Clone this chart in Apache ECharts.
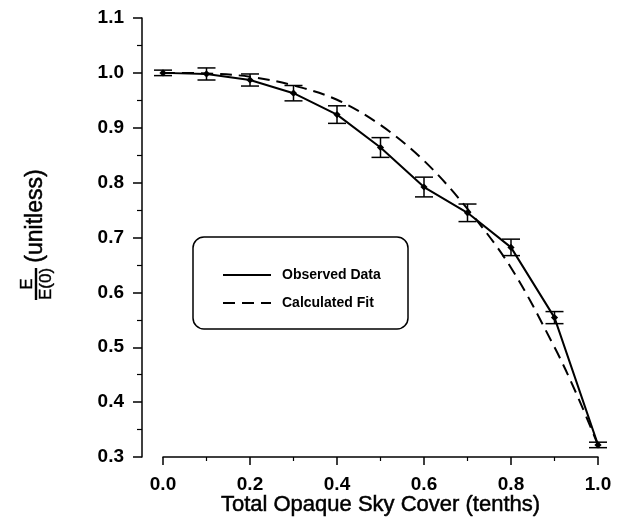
<!DOCTYPE html>
<html>
<head>
<meta charset="utf-8">
<script src="https://cdn.jsdelivr.net/npm/echarts@6/dist/echarts.min.js"></script>
<style>
html,body{margin:0;padding:0;background:#fff;}
#chart{width:621px;height:518px;}
</style>
</head>
<body>
<div id="chart"></div>
<script>
// ---- data ----
const xValues     = [0.0, 0.1, 0.2, 0.3, 0.4, 0.5, 0.6, 0.7, 0.8, 0.9, 1.0];
const observedY   = [1.000, 0.998, 0.987, 0.963, 0.924, 0.864, 0.792, 0.745, 0.682, 0.554, 0.322];
const observedErr = [0.005, 0.011, 0.011, 0.014, 0.016, 0.018, 0.018, 0.016, 0.015, 0.011, 0.005];
const fitX = [0.0, 0.1, 0.2, 0.3, 0.4, 0.5, 0.6, 0.7, 0.8, 0.9, 0.95, 1.0];
const fitY = [1.000, 0.999, 0.993, 0.977, 0.951, 0.905, 0.840, 0.752, 0.645, 0.500, 0.416, 0.322];
const xTickLabels = ['0.0', '0.2', '0.4', '0.6', '0.8', '1.0'];
const yTickLabels = ['0.3', '0.4', '0.5', '0.6', '0.7', '0.8', '0.9', '1.0', '1.1'];
const seriesNames = ['Observed Data', 'Calculated Fit'];
const xTitle = 'Total Opaque Sky Cover (tenths)';
const yTitleNum = 'E';
const yTitleDen = 'E(0)';
const yTitleUnit = '(unitless)';

const FONT = '"Liberation Sans", Arial, Helvetica, sans-serif';
const INK = '#000';

function tickFormatter(labels) {
  return function (v) {
    for (const l of labels) { if (Math.abs(parseFloat(l) - v) < 1e-6) return l; }
    return '';
  };
}
const xMin = parseFloat(xTickLabels[0]);
const xMax = parseFloat(xTickLabels[xTickLabels.length - 1]);
const xInt = Number((parseFloat(xTickLabels[1]) - xMin).toFixed(4));
const yMin = parseFloat(yTickLabels[0]);
const yMax = parseFloat(yTickLabels[yTickLabels.length - 1]);
const yInt = Number((parseFloat(yTickLabels[1]) - yMin).toFixed(4));

const chart = echarts.init(document.getElementById('chart'), null, {renderer: 'canvas'});

const option = {
  backgroundColor: '#fff',
  animation: false,
  grid: {left: 163, right: 23, top: 18, bottom: 61, containLabel: false, outerBoundsMode: 'none'},
  xAxis: {
    type: 'value', min: xMin, max: xMax, interval: xInt,
    name: xTitle, nameLocation: 'middle', nameGap: 37, nameMoveOverlap: false,
    nameTextStyle: {fontFamily: FONT, fontSize: 22, color: INK, textBorderColor: INK, textBorderWidth: 0.5},
    axisLine: {show: true, onZero: false, lineStyle: {color: INK, width: 1.5}},
    axisTick: {show: true, inside: false, length: 8, lineStyle: {color: INK, width: 1.5}},
    minorTick: {show: true, splitNumber: 2, length: 4, lineStyle: {color: INK, width: 1.2}},
    axisLabel: {margin: 18, fontFamily: FONT, fontSize: 19, fontWeight: 'bold', color: INK,
                formatter: tickFormatter(xTickLabels)},
    splitLine: {show: false}
  },
  yAxis: {
    type: 'value', min: yMin, max: yMax, interval: yInt, offset: 21,
    axisLine: {show: true, onZero: false, lineStyle: {color: INK, width: 1.5}},
    axisTick: {show: true, inside: false, length: 9, lineStyle: {color: INK, width: 1.5}},
    minorTick: {show: true, splitNumber: 2, length: 5, lineStyle: {color: INK, width: 1.2}},
    axisLabel: {margin: 18, fontFamily: FONT, fontSize: 19, fontWeight: 'bold', color: INK,
                formatter: tickFormatter(yTickLabels)},
    splitLine: {show: false}
  },
  legend: {
    orient: 'vertical', left: 217, top: 263,
    itemWidth: 48, itemHeight: 14, itemGap: 14,
    data: seriesNames,
    itemStyle: {opacity: 0},
    textStyle: {fontFamily: FONT, fontSize: 14, fontWeight: 'bold', color: INK, padding: [0, 0, 0, 6]}
  },
  graphic: [
    {
      type: 'rect', z: 1, silent: true,
      shape: {x: 193, y: 237, width: 215, height: 92, r: 11},
      style: {fill: 'none', stroke: INK, lineWidth: 1.5}
    },
    {
      type: 'group', x: 36, y: 284, rotation: Math.PI / 2, silent: true,
      children: [
        {type: 'text', x: 0, y: -9, style: {text: yTitleNum, fontFamily: FONT, fontSize: 17, fill: INK, stroke: INK, lineWidth: 0.4, align: 'center', verticalAlign: 'middle'}},
        {type: 'rect', shape: {x: -16, y: -1.2, width: 32, height: 2.4}, style: {fill: INK}},
        {type: 'text', x: 0, y: 10, style: {text: yTitleDen, fontFamily: FONT, fontSize: 17, fill: INK, stroke: INK, lineWidth: 0.4, align: 'center', verticalAlign: 'middle'}},
        {type: 'text', x: 68, y: 0, style: {text: yTitleUnit, fontFamily: FONT, fontSize: 23, fill: INK, stroke: INK, lineWidth: 0.5, align: 'center', verticalAlign: 'middle'}}
      ]
    }
  ],
  series: [
    {
      name: seriesNames[0], type: 'line', symbol: 'none',
      data: xValues.map((x, i) => [x, observedY[i]]),
      lineStyle: {color: INK, width: 2, type: 'solid'},
      itemStyle: {color: INK},
      clip: false, z: 3
    },
    {
      name: seriesNames[1], type: 'line', symbol: 'none', smooth: 0.35,
      data: fitX.map((x, i) => [x, fitY[i]]),
      lineStyle: {color: INK, width: 2, type: [12, 7]},
      itemStyle: {color: INK},
      clip: false, z: 2
    },
    {
      name: 'errors', type: 'custom', clip: false, z: 4,
      data: xValues.map((x, i) => [x, observedY[i], observedErr[i]]),
      renderItem: function (params, api) {
        const x = api.value(0), y = api.value(1), e = api.value(2);
        const c = api.coord([x, y]);
        const t = api.coord([x, y + e]);
        const b = api.coord([x, y - e]);
        const hw = 9, r = 3.6;
        const st = {stroke: INK, lineWidth: 1.5};
        return {
          type: 'group',
          children: [
            {type: 'line', shape: {x1: t[0], y1: t[1], x2: b[0], y2: b[1]}, style: st},
            {type: 'line', shape: {x1: t[0] - hw, y1: t[1], x2: t[0] + hw, y2: t[1]}, style: st},
            {type: 'line', shape: {x1: b[0] - hw, y1: b[1], x2: b[0] + hw, y2: b[1]}, style: st},
            {type: 'polygon', shape: {points: [[c[0], c[1] - r], [c[0] + r, c[1]], [c[0], c[1] + r], [c[0] - r, c[1]]]}, style: {fill: INK}}
          ]
        };
      }
    }
  ]
};
chart.setOption(option);
</script>
</body>
</html>
